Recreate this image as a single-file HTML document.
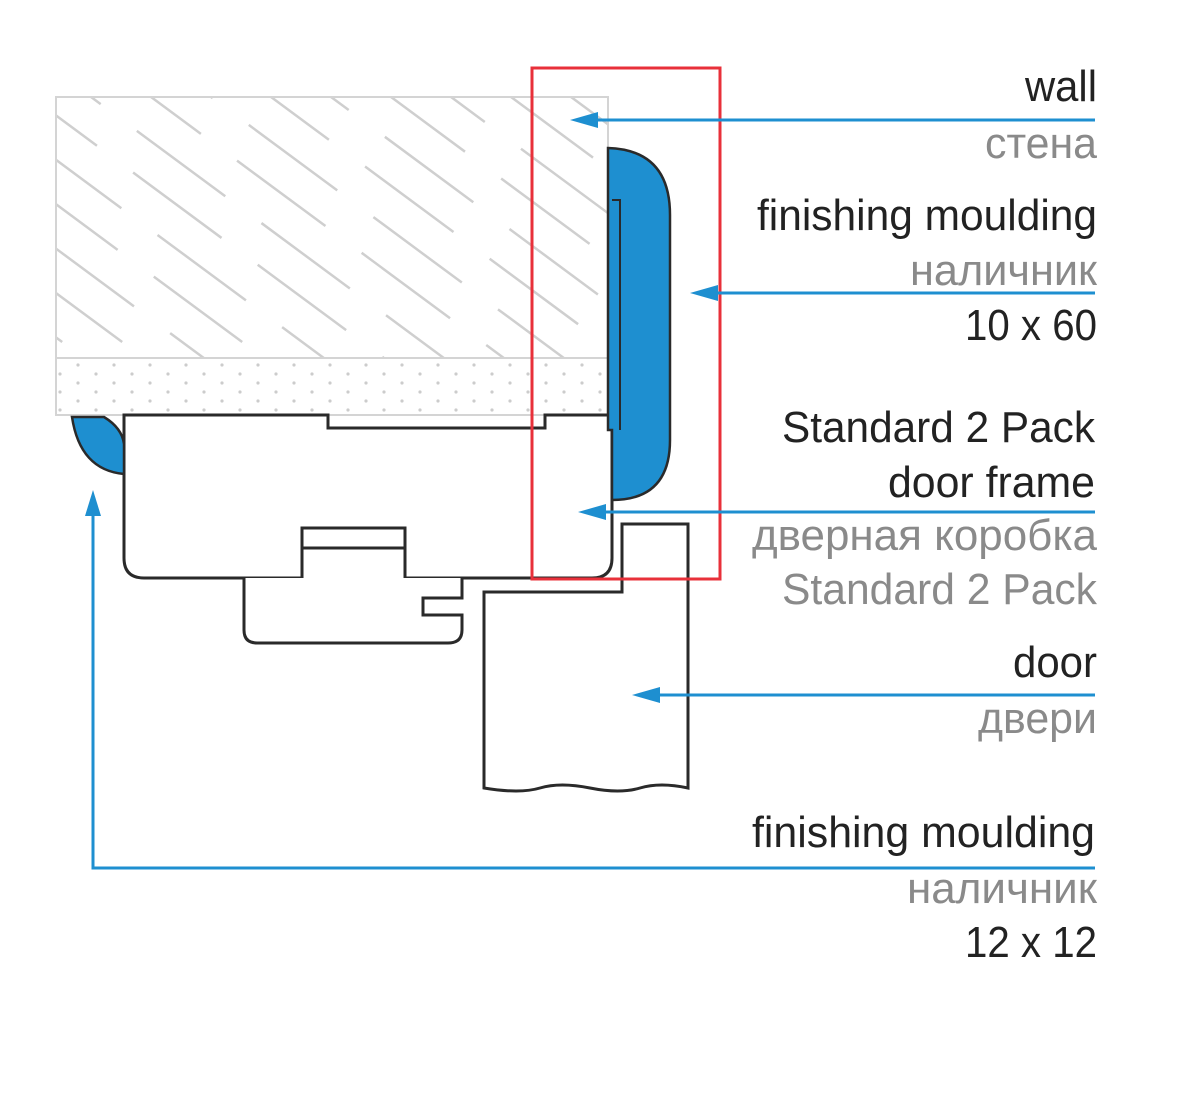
<!DOCTYPE html>
<html><head><meta charset="utf-8"><style>
html,body{margin:0;padding:0;background:#fff;}
svg{display:block;}
text{font-family:"Liberation Sans",sans-serif;font-size:44px;}
.b{fill:#222;}
.g{fill:#8a8a8a;}
</style></head><body>
<svg width="1200" height="1120" viewBox="0 0 1200 1120" xmlns="http://www.w3.org/2000/svg">
<defs>
<clipPath id="wc"><rect x="57" y="98" width="550" height="259"/></clipPath>
<pattern id="dots" width="36" height="18" patternUnits="userSpaceOnUse">
<circle cx="6" cy="5" r="1.6" fill="#ccc"/><circle cx="24" cy="14" r="1.6" fill="#ccc"/>
</pattern>
</defs>
<!-- wall -->
<rect x="56" y="97" width="552" height="318" fill="#fff" stroke="#d4d4d4" stroke-width="2"/>
<g clip-path="url(#wc)" stroke="#cfcfcf" stroke-width="2.5" stroke-dasharray="110 45">
<line x1="-400" y1="0" x2="100" y2="370"/>
<line x1="-340" y1="0" x2="160" y2="370"/>
<line x1="-280" y1="0" x2="220" y2="370" stroke-dashoffset="60"/>
<line x1="-220" y1="0" x2="280" y2="370"/>
<line x1="-160" y1="0" x2="340" y2="370" stroke-dashoffset="70"/>
<line x1="-100" y1="0" x2="400" y2="370" stroke-dashoffset="20"/>
<line x1="-40" y1="0" x2="460" y2="370" stroke-dashoffset="90"/>
<line x1="20" y1="0" x2="520" y2="370" stroke-dashoffset="40"/>
<line x1="80" y1="0" x2="580" y2="370" stroke-dashoffset="100"/>
<line x1="140" y1="0" x2="640" y2="370" stroke-dashoffset="30"/>
<line x1="200" y1="0" x2="700" y2="370" stroke-dashoffset="80"/>
<line x1="260" y1="0" x2="760" y2="370" stroke-dashoffset="10"/>
<line x1="320" y1="0" x2="820" y2="370" stroke-dashoffset="60"/>
<line x1="380" y1="0" x2="880" y2="370"/>
<line x1="440" y1="0" x2="940" y2="370" stroke-dashoffset="50"/>
<line x1="500" y1="0" x2="1000" y2="370"/>
</g>
<rect x="57" y="359" width="550" height="55" fill="url(#dots)"/>
<line x1="56" y1="358" x2="608" y2="358" stroke="#d4d4d4" stroke-width="2"/>
<!-- frame -->
<path d="M124 415 H328 V428 H545 V415 H612 V558 Q612 578 592 578 H405 V528 H302 V578 H144 Q124 578 124 558 Z" fill="#fff" stroke="#2a2a2a" stroke-width="3"/>
<line x1="302" y1="548" x2="405" y2="548" stroke="#2a2a2a" stroke-width="3"/>
<path d="M244 578 V630 Q244 643 257 643 H448 Q462 643 462 630 V615 H423 V598 H462 V578" fill="#fff" stroke="#2a2a2a" stroke-width="3"/>
<!-- door -->
<path d="M484 788 V592 H622 V524 H688 V788 Q660 782 640 788 T590 788 T540 788 T484 788 Z" fill="#fff" stroke="#2a2a2a" stroke-width="3"/>
<!-- mouldings -->
<path d="M608 148 Q670 150 670 215 V440 Q670 500 612 500 V430 H608 Z" fill="#1e8fd0" stroke="#2a2a2a" stroke-width="2.5"/>
<path d="M612 200 H620 V430" fill="none" stroke="#2a2a2a" stroke-width="2"/>
<path d="M72 417 H104 Q122 428 124 444 V474 Q80 470 72 417 Z" fill="#1e8fd0" stroke="#2a2a2a" stroke-width="2.5"/>
<!-- red box -->
<rect x="532" y="68" width="188" height="511" fill="none" stroke="#e8303a" stroke-width="3"/>
<!-- leaders -->
<g stroke="#1e8fd0" stroke-width="3" fill="none">
<line x1="590" y1="120" x2="1095" y2="120"/>
<line x1="710" y1="293" x2="1095" y2="293"/>
<line x1="598" y1="512" x2="1095" y2="512"/>
<line x1="652" y1="695" x2="1095" y2="695"/>
<polyline points="93,510 93,868 1095,868"/>
</g>
<g fill="#1e8fd0">
<polygon points="570,120 598,112 598,128"/>
<polygon points="690,293 718,285 718,301"/>
<polygon points="578,512 606,504 606,520"/>
<polygon points="632,695 660,687 660,703"/>
<polygon points="93,490 85,516 101,516"/>
</g>
<!-- labels -->
<g text-anchor="end">
<text class="b" x="1097" y="101" textLength="72" lengthAdjust="spacingAndGlyphs">wall</text>
<text class="g" x="1097" y="158" textLength="112" lengthAdjust="spacingAndGlyphs">стена</text>
<text class="b" x="1097" y="230" textLength="340" lengthAdjust="spacingAndGlyphs">finishing moulding</text>
<text class="g" x="1097" y="285" textLength="187" lengthAdjust="spacingAndGlyphs">наличник</text>
<text class="b" x="1097" y="340" textLength="132" lengthAdjust="spacingAndGlyphs">10 x 60</text>
<text class="b" x="1095" y="442" textLength="313" lengthAdjust="spacingAndGlyphs">Standard 2 Pack</text>
<text class="b" x="1095" y="497" textLength="207" lengthAdjust="spacingAndGlyphs">door frame</text>
<text class="g" x="1097" y="550" textLength="345" lengthAdjust="spacingAndGlyphs">дверная коробка</text>
<text class="g" x="1097" y="604" textLength="315" lengthAdjust="spacingAndGlyphs">Standard 2 Pack</text>
<text class="b" x="1097" y="677" textLength="84" lengthAdjust="spacingAndGlyphs">door</text>
<text class="g" x="1097" y="733" textLength="119" lengthAdjust="spacingAndGlyphs">двери</text>
<text class="b" x="1095" y="847" textLength="343" lengthAdjust="spacingAndGlyphs">finishing moulding</text>
<text class="g" x="1097" y="903" textLength="190" lengthAdjust="spacingAndGlyphs">наличник</text>
<text class="b" x="1097" y="957" textLength="132" lengthAdjust="spacingAndGlyphs">12 x 12</text>
</g>
</svg>
</body></html>
